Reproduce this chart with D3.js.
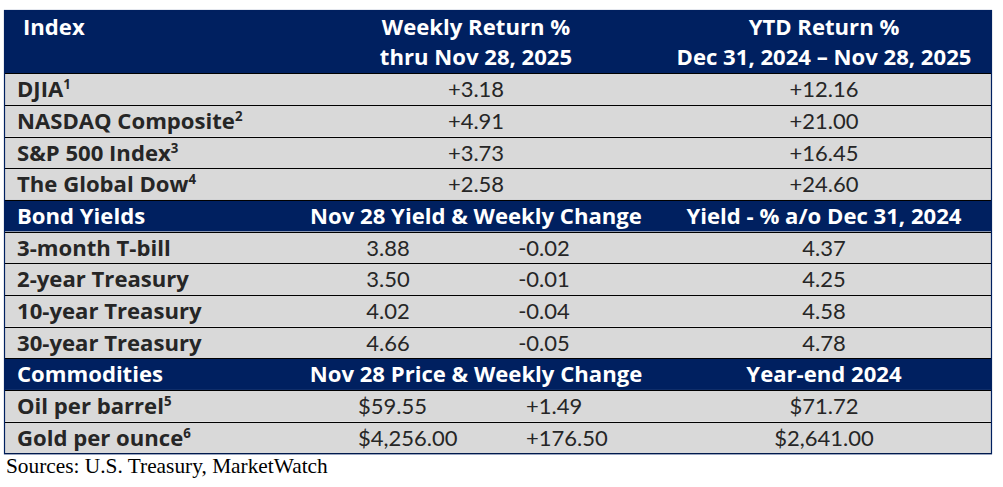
<!DOCTYPE html>
<html>
<head>
<meta charset="utf-8">
<script src="https://cdn.jsdelivr.net/npm/d3@7"></script>
<style>
  html, body { margin: 0; padding: 0; background: #ffffff; }
  svg { display: block; }
</style>
</head>
<body>
<div id="chart"></div>
<script>
// ---------------- DATA ----------------
const headerTitles = [["Index"], ["Weekly Return %", "thru Nov 28, 2025"], ["YTD Return %", "Dec 31, 2024 \u2013 Nov 28, 2025"]];
const indexNames = ["DJIA", "NASDAQ Composite", "S&P 500 Index", "The Global Dow"];
const indexNotes = ["1", "2", "3", "4"];
const weeklyReturn = [3.18, 4.91, 3.73, 2.58];
const ytdReturn = [12.16, 21.00, 16.45, 24.60];

const bondTitles = ["Bond Yields", "Nov 28 Yield & Weekly Change", "Yield - % a/o Dec 31, 2024"];
const bondNames = ["3-month T-bill", "2-year Treasury", "10-year Treasury", "30-year Treasury"];
const bondYield = [3.88, 3.50, 4.02, 4.66];
const bondChange = [-0.02, -0.01, -0.04, -0.05];
const bondPrior = [4.37, 4.25, 4.58, 4.78];

const commodTitles = ["Commodities", "Nov 28 Price & Weekly Change", "Year-end 2024"];
const commodNames = ["Oil per barrel", "Gold per ounce"];
const commodNotes = ["5", "6"];
const commodPrice = [59.55, 4256.00];
const commodChange = [1.49, 176.50];
const commodPrior = [71.72, 2641.00];

const sourceNote = "Sources: U.S. Treasury, MarketWatch";

// ---------------- LAYOUT ----------------
const W = 1003, H = 487;
const navy = "#002060", rowFill = "#d9d9d9", textDark = "#262626";
const FONT_B = "'Open Sans', Lato, sans-serif";
const FONT_R = "Lato, 'Open Sans', sans-serif";
const FONT_S = "'Liberation Serif', 'Times New Roman', serif";

const svg = d3.select("#chart").append("svg").attr("width", W).attr("height", H);

// fit font sizes to the reference text widths
function fitSize(str, family, weight, target) {
  const t = svg.append("text").attr("font-family", family).attr("font-weight", weight)
    .attr("font-size", 20).text(str);
  const w = t.node().getComputedTextLength();
  t.remove();
  return 20 * target / w;
}
const FSB = fitSize("NASDAQ Composite", FONT_B, 700, 218);
const FSR = fitSize("+12.16", FONT_R, 400, 69);
const FSS = fitSize(sourceNote, FONT_S, 400, 322);

const loc = d3.formatLocale({decimal: ".", thousands: ",", grouping: [3], currency: ["$", ""], minus: "-"});
const fPlus = loc.format("+.2f");
const fNum = loc.format(".2f");
const fMoney = loc.format("$,.2f");
const fPlusC = loc.format("+,.2f");

const x = d3.scaleLinear().domain([0, 1]).range([4, 992]);
const tableTop = 10, headerBottom = 73.3;
const nRows = 12;
const y = d3.scaleLinear().domain([0, nRows]).range([headerBottom, 453.3]);
const rowH = y(1) - y(0);

const colLabel = 17, colIndexHdr = 23;
const colMid = 476, colRight = 824;
const bondA = 388, bondB = 544;
const comA = 358, comB = 526;

const rows = [];
indexNames.forEach((n, i) => rows.push({type: "data", label: n, note: indexNotes[i],
  cells: [{t: fPlus(weeklyReturn[i]), x: colMid, a: "middle"}, {t: fPlus(ytdReturn[i]), x: colRight, a: "middle"}]}));
rows.push({type: "head", label: bondTitles[0],
  cells: [{t: bondTitles[1], x: colMid, a: "middle"}, {t: bondTitles[2], x: colRight, a: "middle"}]});
bondNames.forEach((n, i) => rows.push({type: "data", label: n,
  cells: [{t: fNum(bondYield[i]), x: bondA, a: "middle"}, {t: fNum(bondChange[i]), x: bondB, a: "middle"}, {t: fNum(bondPrior[i]), x: colRight, a: "middle"}]}));
rows.push({type: "head", label: commodTitles[0],
  cells: [{t: commodTitles[1], x: colMid, a: "middle"}, {t: commodTitles[2], x: colRight, a: "middle"}]});
commodNames.forEach((n, i) => rows.push({type: "data", label: n, note: commodNotes[i],
  cells: [{t: fMoney(commodPrice[i]), x: comA, a: "start"}, {t: fPlusC(commodChange[i]), x: comB, a: "start"}, {t: fMoney(commodPrior[i]), x: colRight, a: "middle"}]}));

// header block
svg.append("rect").attr("x", x(0)).attr("y", tableTop).attr("width", x(1) - x(0)).attr("height", headerBottom - tableTop).attr("fill", navy);
const hdr = svg.append("g").attr("fill", "#ffffff").attr("font-family", FONT_B).attr("font-weight", 700).attr("font-size", FSB);
hdr.append("text").attr("x", colIndexHdr).attr("y", 35).text(headerTitles[0][0]);
[colMid, colRight].forEach((cx, k) => {
  headerTitles[k + 1].forEach((line, j) => {
    hdr.append("text").attr("x", cx).attr("y", 35 + j * 30).attr("text-anchor", "middle").text(line);
  });
});

// rows
const rg = svg.append("g").selectAll("g.row").data(rows).join("g").attr("class", "row")
  .attr("transform", (d, i) => `translate(0,${y(i)})`);
rg.append("rect").attr("x", x(0)).attr("y", 0).attr("width", x(1) - x(0)).attr("height", rowH)
  .attr("fill", d => d.type === "head" ? navy : rowFill);

const lbl = rg.append("text").attr("x", colLabel).attr("y", 24)
  .attr("font-family", FONT_B).attr("font-size", FSB).attr("font-weight", 700)
  .attr("fill", d => d.type === "head" ? "#ffffff" : textDark);
lbl.append("tspan").text(d => d.label);
lbl.filter(d => d.note).append("tspan").attr("font-size", FSB * 0.6).attr("dy", -8).text(d => d.note);

rg.each(function (d) {
  const sel = d3.select(this);
  d.cells.forEach(c => {
    const head = d.type === "head";
    sel.append("text").attr("x", c.x).attr("y", 24).attr("text-anchor", c.a)
      .attr("font-family", head ? FONT_B : FONT_R)
      .attr("font-size", head ? FSB : FSR)
      .attr("font-weight", head ? 700 : 400)
      .attr("fill", head ? "#ffffff" : textDark)
      .text(c.t);
  });
});

// horizontal row lines
const lines = d3.range(0, nRows + 1).map(i => y(i));
svg.append("g").selectAll("line").data(lines).join("line")
  .attr("x1", x(0)).attr("x2", x(1)).attr("y1", d => Math.round(d) + 0.5).attr("y2", d => Math.round(d) + 0.5)
  .attr("stroke", "#000000").attr("stroke-width", 1.2);

// outer border
svg.append("rect").attr("x", x(0) + 0.5).attr("y", tableTop + 0.5)
  .attr("width", x(1) - x(0) - 1).attr("height", y(nRows) - tableTop)
  .attr("fill", "none").attr("stroke", navy).attr("stroke-width", 1.2);

// source
svg.append("text").attr("x", 6).attr("y", 473)
  .attr("font-family", FONT_S).attr("font-size", FSS).attr("fill", "#000000").text(sourceNote);
</script>
</body>
</html>
